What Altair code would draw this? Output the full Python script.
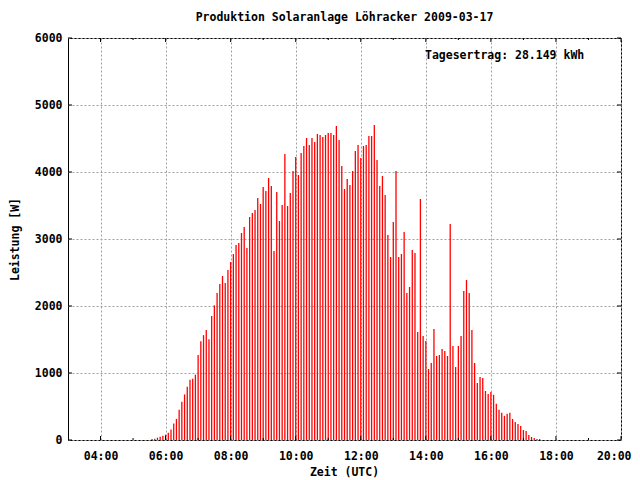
import altair as alt
import pandas as pd

# Power readings [W], one every 5 minutes starting 05:35 UTC
start_hour = 5 + 35 / 60
step_hours = 5 / 60
watts = [
    15, 20, 35, 50, 65, 80, 110, 155, 245, 315,
    450, 570, 680, 795, 900, 915, 975, 1270, 1475, 1565,
    1640, 1505, 1850, 2010, 2195, 2330, 2448, 2343, 2537, 2657,
    2776, 2910, 2940, 3090, 3179, 2866, 3328, 3388, 3433, 3612,
    3522, 3776, 3716, 3910, 3791, 2821, 3701, 3269, 3507, 4269,
    3493, 3687, 4015, 4224, 3955, 4284, 4388, 4507, 4403, 4507,
    4448, 4567, 4552, 4522, 4552, 4582, 4582, 4552, 4687, 4478,
    4090, 3746, 3896, 3806, 4015, 4313, 4403, 4209, 4388, 4403,
    4537, 4537, 4701, 4179, 3791, 3940, 3657, 3060, 2731, 3254,
    4015, 2731, 2776, 3104, 2194, 2284, 2836, 2791, 1612, 3597,
    1552, 1478, 1060, 1149, 1657, 1254, 1269, 1358, 1328, 1254,
    3224, 1403, 1090, 1403, 1552, 2224, 2388, 2194, 1642, 1149,
    851, 940, 925, 731, 687, 718, 675, 540, 450, 405,
    360, 390, 405, 315, 270, 240, 210, 150, 135, 75,
    45, 30, 15, 15,
]
hours = [start_hour + i * step_hours for i in range(len(watts))]

major_x = [4, 6, 8, 10, 12, 14, 16, 18, 20]
minor_x = [5, 7, 9, 11, 13, 15, 17, 19]
major_y = [0, 1000, 2000, 3000, 4000, 5000, 6000]

title_text = "Produktion Solaranlage Löhracker 2009-03-17"
x_title = "Zeit (UTC)"
y_title = "Leistung [W]"
note_text = "Tagesertrag: 28.149 kWh"

FONT = "DejaVu Sans Mono"
FS = 11.5
W, H = 553, 402

df = pd.DataFrame({"hour": hours, "W": watts})
xmaj = pd.DataFrame({"hour": major_x})
xmin = pd.DataFrame({"hour": minor_x})
ymaj = pd.DataFrame({"W": major_y})

xscale = alt.Scale(domain=[3, 20], nice=False, zero=False)
yscale = alt.Scale(domain=[0, 6000], nice=False)

label_expr = "(datum.value < 10 ? '0' : '') + datum.value + ':00'"

x_axis = alt.Axis(
    values=major_x, labelExpr=label_expr, title=x_title,
    ticks=False, domain=False, grid=True,
    gridDash=[2, 2], gridColor="#a0a0a0", gridWidth=1,
    labelFont=FONT, labelFontSize=FS, labelFontWeight="bold", labelColor="black",
    labelPadding=10, labelFlush=True, labelFlushOffset=10, labelOverlap=False,
    titleFont=FONT, titleFontSize=FS, titleFontWeight="bold", titleColor="black",
    titleX=276, titleY=32, titleBaseline="middle", titleAlign="center",
)
y_axis = alt.Axis(
    values=major_y, format="d", title=y_title,
    ticks=False, domain=False, grid=True,
    gridDash=[2, 2], gridColor="#a0a0a0", gridWidth=1,
    labelFont=FONT, labelFontSize=FS, labelFontWeight="bold", labelColor="black",
    labelPadding=6, labelFlush=False,
    titleFont=FONT, titleFontSize=FS, titleFontWeight="bold", titleColor="black",
    titleX=-53, titleY=201, titleAngle=270, titleBaseline="middle", titleAlign="center",
)

X = alt.X("hour:Q", scale=xscale, axis=x_axis)
Y = alt.Y("W:Q", scale=yscale, axis=y_axis)

bars = alt.Chart(df).mark_rule(color="#ff0000", strokeWidth=1.3).encode(
    x=X, y=Y, y2=alt.datum(0),
)

tick_color = "black"
xmaj_bottom = alt.Chart(xmaj).mark_rule(color=tick_color).encode(
    x=X, y=alt.value(H), y2=alt.value(H - 4))
xmaj_top = alt.Chart(xmaj).mark_rule(color=tick_color).encode(
    x=X, y=alt.value(0), y2=alt.value(4))
xmin_bottom = alt.Chart(xmin).mark_rule(color=tick_color).encode(
    x=X, y=alt.value(H), y2=alt.value(H - 2))
xmin_top = alt.Chart(xmin).mark_rule(color=tick_color).encode(
    x=X, y=alt.value(0), y2=alt.value(2))
y_left = alt.Chart(ymaj).mark_rule(color=tick_color).encode(
    y=Y, x=alt.value(0), x2=alt.value(4))
y_right = alt.Chart(ymaj).mark_rule(color=tick_color).encode(
    y=Y, x=alt.value(W - 4), x2=alt.value(W))

note = alt.Chart(pd.DataFrame({"t": [note_text]})).mark_text(
    font=FONT, fontSize=FS, fontWeight="bold", color="black",
    align="left", baseline="middle",
).encode(text="t:N", x=alt.value(357), y=alt.value(18))

chart = alt.layer(
    bars, xmaj_bottom, xmaj_top, xmin_bottom, xmin_top, y_left, y_right, note
).properties(
    width=W, height=H,
    title=alt.TitleParams(title_text, font=FONT, fontSize=FS, fontWeight="bold",
                          color="black", anchor="middle", offset=9),
    autosize=alt.AutoSizeParams(type="none"),
    padding={"left": 60, "top": 30, "right": 11, "bottom": 40},
    background="white",
).configure_view(stroke="black", strokeWidth=1)

chart.save("out.html", embed_options={"renderer": "svg", "actions": False})
